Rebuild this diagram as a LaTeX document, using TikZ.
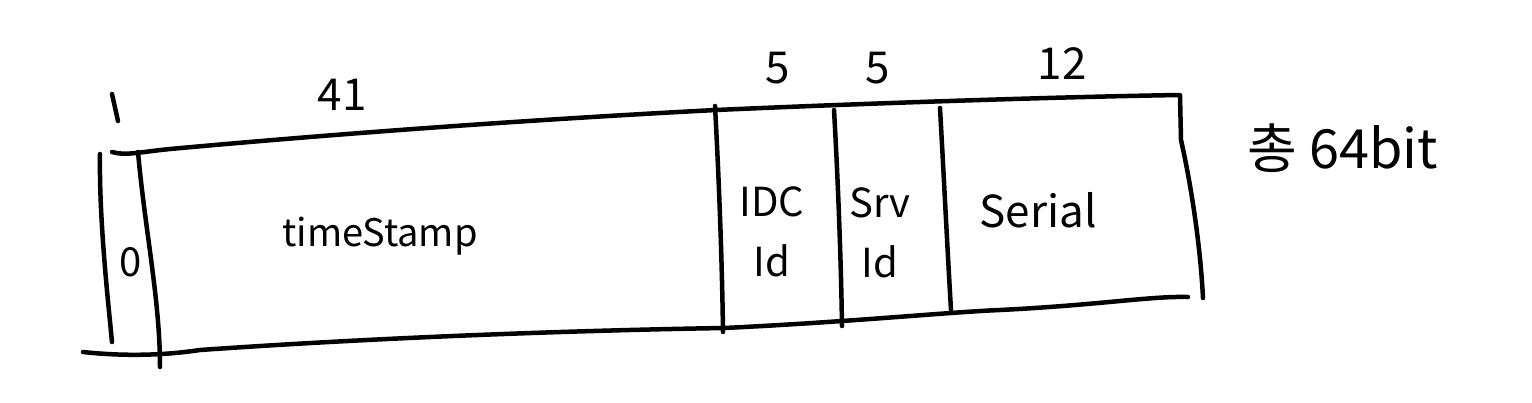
\documentclass[tikz,border=0pt]{standalone}
\usepackage{fontspec}
\setmainfont{Noto Sans CJK KR}
\begin{document}
\begin{tikzpicture}[x=1pt,y=-1pt,
  pen/.style={line width=4.5pt,line cap=round,line join=round},
  lbl/.style={font=\fontsize{40}{60}\selectfont,inner sep=0pt},
  num/.style={font=\fontsize{44}{48}\selectfont,inner sep=0pt}]
\useasboundingbox[fill=white] (0,0) rectangle (1532,402);
% frame lines
\draw[pen] (112,152) .. controls (125,156) and (140,152) .. (170,149)
  .. controls (400,128) and (600,116) .. (716,110)
  .. controls (850,104) and (1050,97) .. (1180,95)
  -- (1181,140) .. controls (1190,180) and (1200,240) .. (1203,298);
\draw[pen] (83,352) .. controls (120,356) and (160,356) .. (200,350)
  .. controls (400,336) and (600,330) .. (724,328)
  .. controls (850,322) and (950,312) .. (1000,310)
  .. controls (1100,305) and (1150,296) .. (1188,297);
\draw[pen] (100,154) .. controls (99,220) and (108,300) .. (112,342);
\draw[pen] (138,152) .. controls (145,230) and (160,300) .. (160,367);
\draw[pen] (715,106) .. controls (719,180) and (722,260) .. (723,332);
\draw[pen] (834,110) .. controls (838,180) and (841,260) .. (842,326);
\draw[pen] (940,108) .. controls (944,180) and (948,260) .. (951,310);
\draw[pen] (112,94) -- (118,121);
% labels
\node[lbl] (zero) at (131,262) {0};
\node[num] (n41) at (342,95) {41};
\node[num] (n5a) at (778,68) {5};
\node[num] (n5b) at (878,68) {5};
\node[num] (n12) at (1062,64) {12};
\node[font=\fontsize{38}{44}\selectfont,inner sep=0pt] (ts) at (380,236) {timeStamp};
\node[lbl,align=center] (idc) at (772,232) {IDC\\Id};
\node[lbl,align=center] (srv) at (880,233) {Srv\\Id};
\node[font=\fontsize{44}{48}\selectfont,inner sep=0pt] (serial) at (1038,210) {Serial};
\node[font=\fontsize{54}{58}\selectfont,inner sep=0pt] (total) at (1343,148) {총 64bit};
\end{tikzpicture}
\end{document}
